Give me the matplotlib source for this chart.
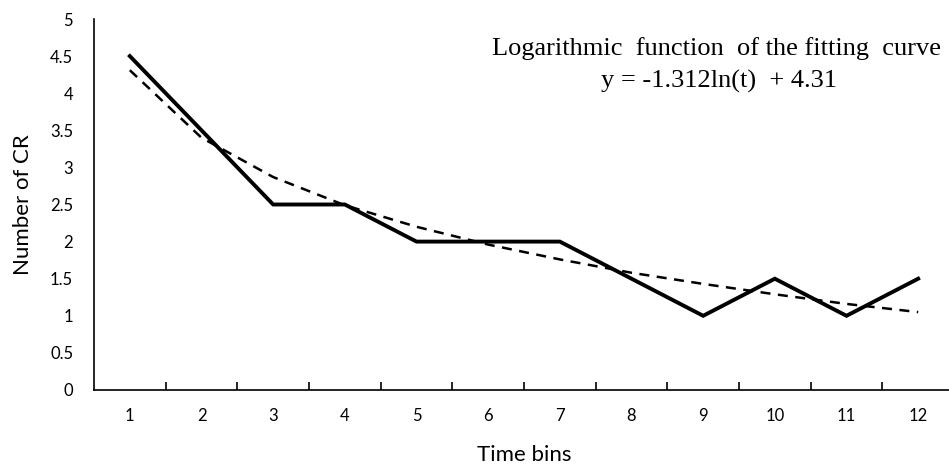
import matplotlib
matplotlib.use("Agg")
import matplotlib.pyplot as plt

time_bins = [1, 2, 3, 4, 5, 6, 7, 8, 9, 10, 11, 12]
cr_counts = [4.5, 3.5, 2.5, 2.5, 2.0, 2.0, 2.0, 1.5, 1.0, 1.5, 1.0, 1.5]
fit_values = [4.31, 3.40, 2.87, 2.49, 2.20, 1.96, 1.76, 1.58, 1.43, 1.29, 1.16, 1.05]
y_ticks = [0, 0.5, 1, 1.5, 2, 2.5, 3, 3.5, 4, 4.5, 5]
y_tick_labels = ["0", "0.5", "1", "1.5", "2", "2.5", "3", "3.5", "4", "4.5", "5"]

fig = plt.figure(figsize=(9.49, 4.71), dpi=100)
ax = fig.add_axes([94/949, 81/471, 860/949, 371/471])

ax.plot(time_bins, cr_counts, color="black", lw=2.8, solid_joinstyle="miter")
ax.plot(time_bins, fit_values, color="black", lw=1.8, linestyle=(0, (4, 3)))

ax.set_xlim(0.5, 12.5)
ax.set_ylim(0, 5)
ax.set_yticks(y_ticks)
ax.set_yticklabels(y_tick_labels, family="Lato")
ax.set_xticks(time_bins)
ax.set_xticklabels([str(t) for t in time_bins], family="Lato")
ax.set_xticks([t + 0.5 for t in time_bins[:-1]], minor=True)
ax.tick_params(axis="x", which="major", length=0, pad=13, labelsize=12)
ax.tick_params(axis="x", which="minor", length=6, direction="in", width=1.2)
ax.tick_params(axis="y", length=0, pad=15, labelsize=12)

for s in ["top", "right"]:
    ax.spines[s].set_visible(False)
ax.spines["left"].set_linewidth(1.2)
ax.spines["bottom"].set_linewidth(1.2)

ax.set_xlabel("Time bins", fontsize=16, family="Lato", labelpad=15)
ax.set_ylabel("Number of CR", fontsize=16, family="Lato", labelpad=12)

fig.text(716/949, 1 - 55/471, "Logarithmic  function  of the fitting  curve",
         family="Liberation Serif", fontsize=19, ha="center", va="baseline")
fig.text(719/949, 1 - 88/471, "y = -1.312ln(t)  + 4.31",
         family="Liberation Serif", fontsize=19, ha="center", va="baseline")

fig.savefig("out.png", dpi=100)
